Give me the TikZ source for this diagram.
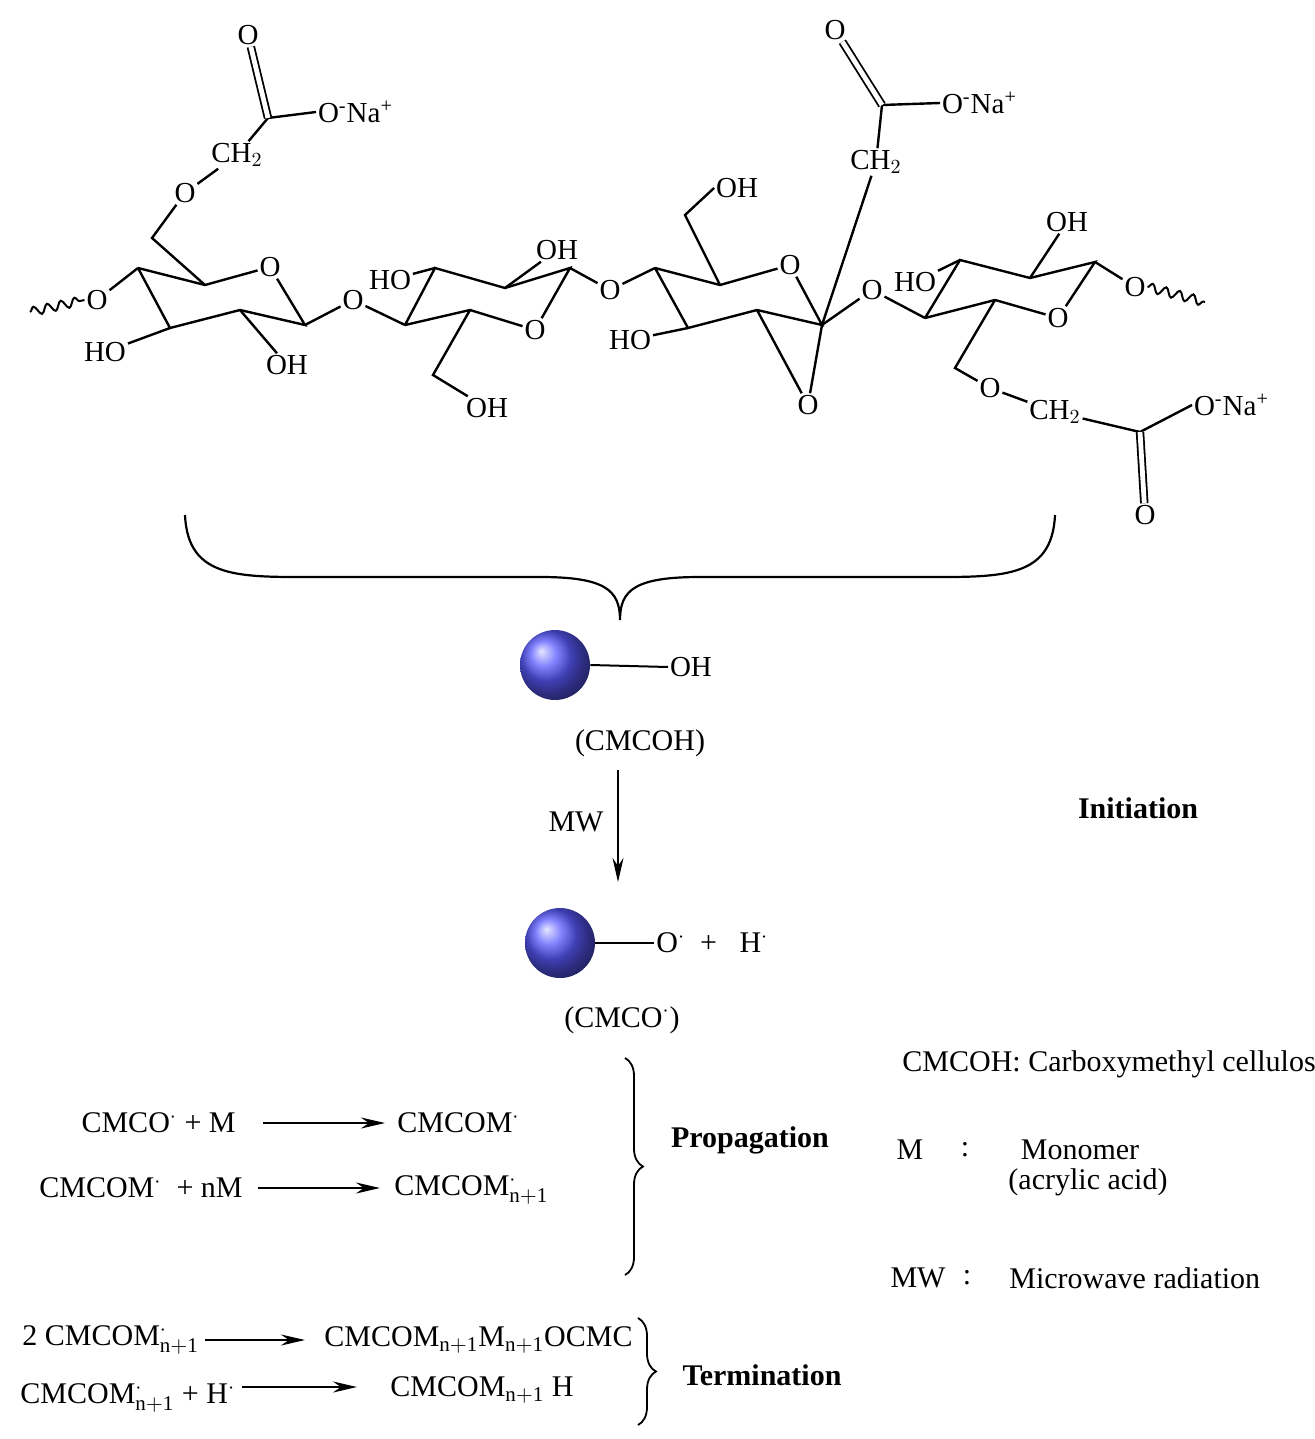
\documentclass[tikz,border=0pt]{standalone}
\usepackage{fontspec}
\setmainfont{Liberation Serif}
\usetikzlibrary{positioning, arrows.meta, calc, decorations.pathmorphing, decorations.pathreplacing}
\newcommand{\chemfont}{\fontsize{14.5}{16}\selectfont}
\newcommand{\txtfont}{\fontsize{15}{17}\selectfont}
\newcommand{\rdt}{$^{\cdot}$}
\begin{document}
\begin{tikzpicture}[x=0.5pt, y=-0.5pt,
    atom/.style={inner sep=0.8pt, font=\chemfont},
    bond/.style={line width=1.2pt},
    dbond/.style={line width=0.9pt, double, double distance=2.4pt},
    wavy/.style={line width=1pt, decorate, decoration={snake, amplitude=2.2pt, segment length=7pt}},
    label/.style={inner sep=1pt, font=\txtfont},
    rxn/.style={line width=1pt, -{Stealth[length=12pt, width=5.5pt]}},
    cell/.style={circle, minimum size=35pt, inner sep=0pt, shading=ball, ball color=blue!65!white},
    curly/.style={line width=0.9pt, decorate, decoration={brace, amplitude=9pt}}]
\useasboundingbox (0,0) rectangle (1314,1439);

% Ring 1
\foreach \n/\p in {a/{138,268}, b/{205,285}, d/{305,325}, e/{240,310}, f/{170,328}}
  \coordinate (r1\n) at (\p);
\node[atom] (r1c) at (270,267) {O};
\node[atom] (o4) at (97,300) {O};
\coordinate (wl) at (30,312);
\node[atom] (ho1) at (105,352) {HO};
\node[atom] (oh1) at (287,365) {OH};
\coordinate (c61) at (152,238);
\node[atom] (o61) at (185,193) {O};
\node[atom] (ch21) at (237,155) {CH$_2$};
\coordinate (co1) at (268,118);
\node[atom] (oo1) at (248,35) {O};
\node[atom, anchor=west] (na1) at (316,112) {O\textsuperscript{-}Na\textsuperscript{+}};
\draw[bond] (r1a) -- (r1b) -- (r1c) -- (r1d) -- (r1e) -- (r1f) -- (r1a);
\draw[wavy] (wl) -- (o4.west);
\draw[bond] (o4) -- (r1a) (r1f) -- (ho1) (r1e) -- (oh1) (r1b) -- (c61) -- (o61) -- (ch21) -- (co1) -- (na1.west);
\draw[dbond] (co1) -- (oo1);

% Ring 2
\node[atom] (g1) at (353,300) {O};
\foreach \n/\p in {a/{405,325}, b/{435,268}, c/{505,288}, d/{570,268}, f/{470,310}}
  \coordinate (r2\n) at (\p);
\node[atom] (r2e) at (535,330) {O};
\node[atom] (ho2) at (390,280) {HO};
\node[atom] (oh2) at (557,250) {OH};
\coordinate (c62) at (433,375);
\node[atom] (oh62) at (487,408) {OH};
\draw[bond] (r2a) -- (r2b) -- (r2c) -- (r2d) -- (r2e) -- (r2f) -- (r2a);
\draw[bond] (r1d) -- (g1) -- (r2a) (r2b) -- (ho2) (r2c) -- (oh2) (r2f) -- (c62) -- (oh62);

% Ring 3
\node[atom] (g2) at (610,290) {O};
\foreach \n/\p in {a/{655,268}, b/{720,285}, d/{822,325}, e/{757,310}, f/{688,328}}
  \coordinate (r3\n) at (\p);
\node[atom] (r3c) at (790,265) {O};
\coordinate (c63) at (685,215);
\node[atom] (oh63) at (737,188) {OH};
\node[atom] (ho3) at (630,340) {HO};
\node[atom] (ep) at (808,405) {O};
\node[atom] (ch23) at (876,162) {CH$_2$};
\coordinate (co3) at (882,105);
\node[atom] (oo3) at (835,30) {O};
\node[atom, anchor=west] (na3) at (940,103) {O\textsuperscript{-}Na\textsuperscript{+}};
\draw[bond] (r3a) -- (r3b) -- (r3c) -- (r3d) -- (r3e) -- (r3f) -- (r3a);
\draw[bond] (r2d) -- (g2) -- (r3a) (r3b) -- (c63) -- (oh63.west) (r3f) -- (ho3)
  (r3e) -- (ep) -- (r3d) (r3d) -- (ch23) (ch23) -- (co3) -- (na3.west);
\draw[dbond] (co3) -- (oo3);

% Ring 4
\node[atom] (g3) at (872,290) {O};
\foreach \n/\p in {a/{925,318}, b/{960,260}, c/{1030,278}, d/{1095,262}, f/{995,300}}
  \coordinate (r4\n) at (\p);
\node[atom] (r4e) at (1058,318) {O};
\node[atom] (ho4) at (915,282) {HO};
\node[atom] (oh4) at (1067,222) {OH};
\node[atom] (o1r) at (1135,287) {O};
\coordinate (wr) at (1205,302);
\coordinate (c64) at (955,368);
\node[atom] (o64) at (990,388) {O};
\node[atom] (ch24) at (1055,412) {CH$_2$};
\coordinate (co4) at (1140,432);
\node[atom, anchor=west] (na4) at (1192,405) {O\textsuperscript{-}Na\textsuperscript{+}};
\node[atom] (oo4) at (1145,515) {O};
\draw[bond] (r4a) -- (r4b) -- (r4c) -- (r4d) -- (r4e) -- (r4f) -- (r4a);
\draw[bond] (r3d) -- (g3) -- (r4a) (r4b) -- (ho4) (r4c) -- (oh4) (r4d) -- (o1r)
  (r4f) -- (c64) -- (o64) -- (ch24) -- (co4) -- (na4.west);
\draw[wavy] (o1r.east) -- (wr);
\draw[dbond] (co4) -- (oo4);

% Big brace
\coordinate (bl) at (185,515);
\coordinate (br) at (1055,515);
\coordinate (btip) at (620,620);
\draw[line width=1.1pt] (bl) .. controls (188,580) and (240,577) .. (320,577) -- (540,577)
  .. controls (605,577) and (620,590) .. (btip) .. controls (620,590) and (635,577) .. (700,577) -- (920,577)
  .. controls (1000,577) and (1052,580) .. (br);

% Initiation
\node[cell] (cell1) at (555,665) {};
\node[atom, anchor=west] (oh) at (668,667) {OH};
\draw[line width=1pt] (cell1.east) -- (oh.west);
\node[label] (cmcoh) at (640,743) {(CMCOH)};
\coordinate (ma) at (618,770);
\coordinate (mb) at (618,882);
\draw[rxn] (ma) -- (mb);
\node[label] (mw) at (576,822) {MW};
\node[label, font=\txtfont\bfseries] (init) at (1138,808) {Initiation};
\node[cell] (cell2) at (560,943) {};
\node[label, anchor=west] (orad) at (654,943) {O\rdt\ \ +\ \ \ H\rdt};
\draw[line width=1pt] (cell2.east) -- (orad.west);
\node[label] (cmco) at (622,1020) {(CMCO\rdt)};

% Propagation
\node[label, anchor=east] (p1l) at (238,1123) {CMCO\rdt\ + M};
\node[label, anchor=west] (p1r) at (395,1123) {CMCOM\rdt};
\draw[rxn] (263,1123) coordinate (p1a) -- (385,1123) coordinate (p1b);
\node[label, anchor=east] (p2l) at (245,1188) {CMCOM\rdt\ \ + nM};
\node[label, anchor=west] (p2r) at (392,1190) {CMCOM$^{\cdot}_{\mathrm{n+1}}$};
\draw[rxn] (258,1188) coordinate (p2a) -- (380,1188) coordinate (p2b);
\coordinate (pbt) at (625,1058);
\coordinate (pbb) at (625,1275);
\draw[curly] (pbt) -- (pbb);
\node[label, font=\txtfont\bfseries] (prop) at (750,1140) {Propagation};

% Legend
\node[label, anchor=west] (lg1) at (900,1064) {CMCOH: Carboxymethyl cellulose};
\node[label] (lgm) at (910,1150) {M};
\node[label] (lgc1) at (965,1150) {:};
\node[label] (lgm2) at (1080,1150) {Monomer};
\node[label] (lgm3) at (1088,1182) {(acrylic acid)};
\node[label] (lgw) at (918,1278) {MW};
\node[label] (lgc2) at (967,1278) {:};
\node[label, anchor=west] (lgw2) at (1007,1278) {Microwave radiation};

% Termination
\node[label, anchor=west] (t1l) at (20,1340) {2 CMCOM$^{\cdot}_{\mathrm{n+1}}$};
\node[label, anchor=west] (t1r) at (322,1340) {CMCOM$_{\mathrm{n+1}}$M$_{\mathrm{n+1}}$OCMC};
\draw[rxn] (205,1340) coordinate (t1a) -- (305,1340) coordinate (t1b);
\node[label, anchor=west] (t2l) at (18,1398) {CMCOM$^{\cdot}_{\mathrm{n+1}}$ + H\rdt};
\node[label, anchor=west] (t2r) at (388,1390) {CMCOM$_{\mathrm{n+1}}$ H};
\draw[rxn] (242,1387) coordinate (t2a) -- (357,1387) coordinate (t2b);
\coordinate (tbt) at (638,1318);
\coordinate (tbb) at (638,1425);
\draw[curly] (tbt) -- (tbb);
\node[label, font=\txtfont\bfseries] (term) at (762,1375) {Termination};
\end{tikzpicture}
\end{document}
